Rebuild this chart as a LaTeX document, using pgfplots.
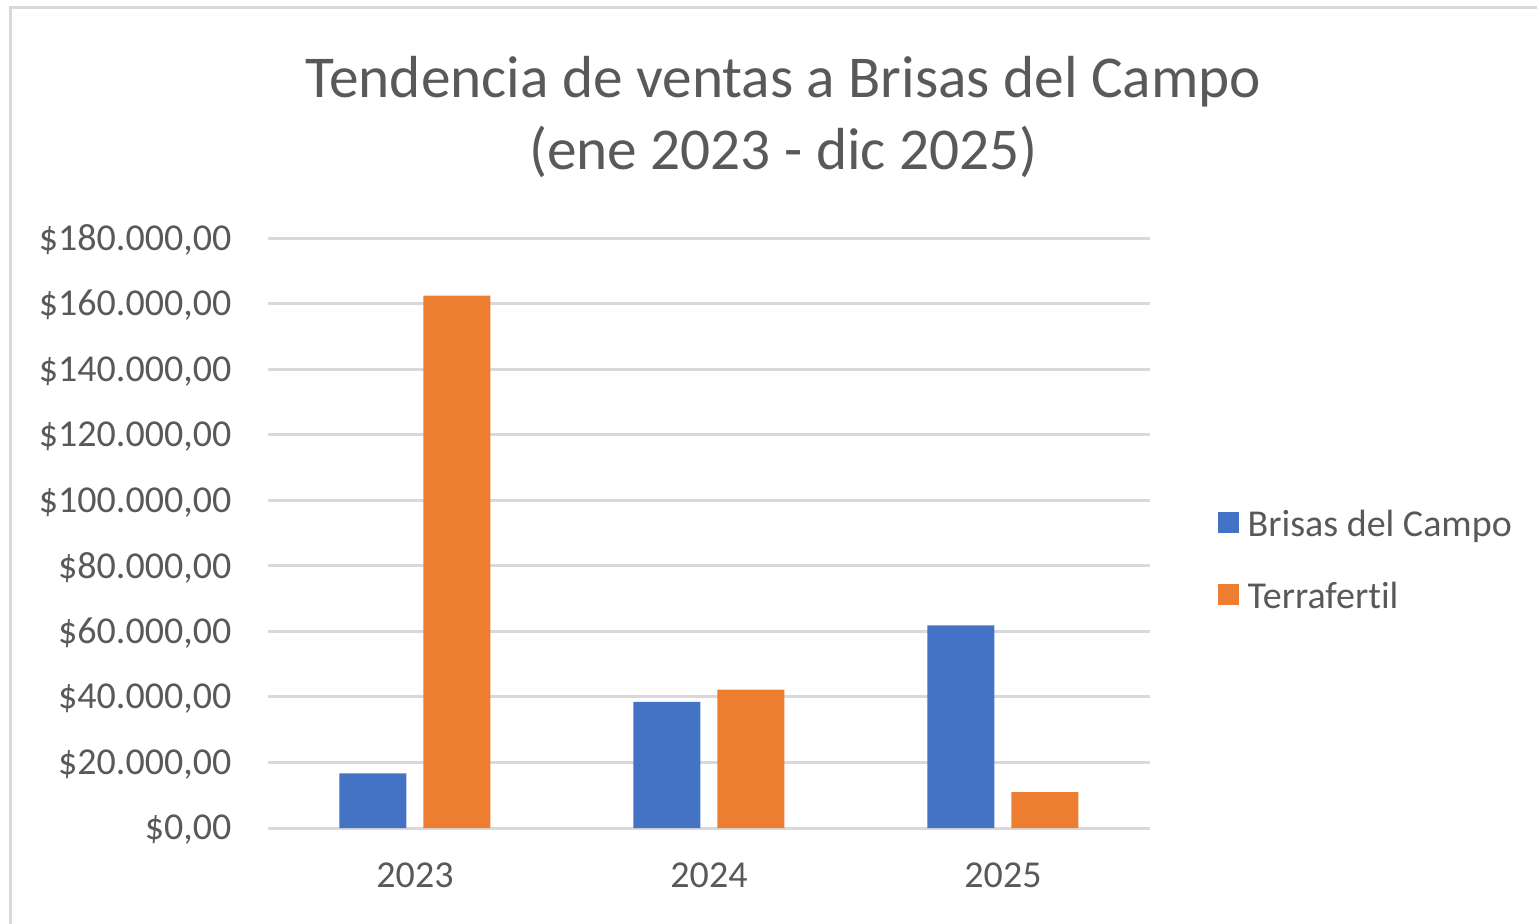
\documentclass[border=0pt]{standalone}
\usepackage{pgfplots}
\pgfplotsset{compat=1.18}
\usepackage{fontspec}
\setmainfont{Carlito}[RawFeature={-liga;-clig;-calt;-dlig;-rlig}]
\definecolor{cblue}{HTML}{4472C4}
\definecolor{corange}{HTML}{ED7D31}
\definecolor{txt}{HTML}{595959}
\definecolor{gridc}{HTML}{D9D9D9}
\begin{document}
\begin{tikzpicture}[x=1pt,y=1pt]
\path[use as bounding box] (0,0) rectangle (461.1,276.9);
\draw[gridc, line width=0.9pt] (3,-2) -- (3,274.5) -- (463,274.5);
\node[txt, font=\fontsize{17.8}{21}\selectfont, anchor=base] at (235,247.5) {Tendencia de ventas a Brisas del Campo};
\node[txt, font=\fontsize{17.8}{21}\selectfont, anchor=base] at (235,226) {(ene 2023 - dic 2025)};
\begin{axis}[
  at={(80.4pt,28.5pt)}, anchor=south west,
  scale only axis, width=264.6pt, height=177pt,
  xmin=-0.5, xmax=2.5, ymin=0, ymax=180000,
  enlargelimits=false,
  ybar=5.1pt, bar width=20.1pt,
  xtick={0,1,2}, xticklabels={2023,2024,2025},
  ytick={0,20000,40000,60000,80000,100000,120000,140000,160000,180000},
  yticklabels={{\$0,00},{\$20.000,00},{\$40.000,00},{\$60.000,00},{\$80.000,00},{\$100.000,00},{\$120.000,00},{\$140.000,00},{\$160.000,00},{\$180.000,00}},
  scaled y ticks=false,
  axis line style={draw=none},
  major tick length=0pt,
  ymajorgrids,
  grid style={gridc, line width=0.9pt},
  tick label style={txt, font=\fontsize{11.4}{13}\selectfont},
  yticklabel style={anchor=east, inner sep=0pt, xshift=-10.8pt, yshift=-0.6pt},
  xticklabel style={anchor=north, inner sep=0pt, yshift=-10.4pt},
  legend style={at={(1.076,0.451)}, anchor=west, draw=none, fill=none,
    inner sep=0pt, font=\fontsize{11.4}{13}\selectfont, text=txt,
    nodes={inner sep=0pt, text height=8.5pt, text depth=2.3pt},
    column sep=2.7pt, row sep=10.8pt},
  legend cell align=left,
  legend image code/.code={\fill[#1] (0pt,-2.2pt) rectangle (6.3pt,4.1pt);},
]
\addplot[fill=cblue, draw=none] coordinates {(0,16650) (1,38450) (2,61800)};
\addplot[fill=corange, draw=none] coordinates {(0,162400) (1,42250) (2,10950)};
\legend{Brisas del Campo, Terrafert\kern0pt il}
\end{axis}
\end{tikzpicture}
\end{document}
